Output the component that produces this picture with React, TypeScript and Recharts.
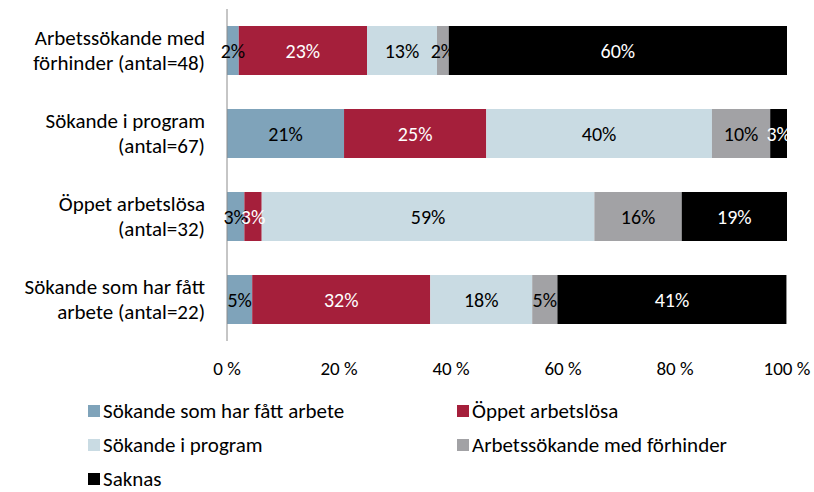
import { BarChart, Bar, XAxis, YAxis, LabelList } from "recharts";

const FONT = "Carlito, Calibri, Lato, sans-serif";

// kategorier uppifrån och ned, radbrytning med \n
const categories = [
  "Arbetssökande med\nförhinder (antal=48)",
  "Sökande i program\n(antal=67)",
  "Öppet arbetslösa\n(antal=32)",
  "Sökande som har fått\narbete (antal=22)",
];

// andelar i procent per serie (samma ordning som kategorierna)
const fattArbete = [2.1, 20.9, 3.1, 4.5];
const oppetArbetslosa = [22.9, 25.4, 3.1, 31.8];
const iProgram = [12.5, 40.3, 59.4, 18.2];
const medForhinder = [2.1, 10.4, 15.6, 4.5];
const saknas = [60.4, 3.0, 18.8, 40.9];

const xTicks = [0, 20, 40, 60, 80, 100];

const series = [
  { key: "fattArbete", name: "Sökande som har fått arbete", color: "#7fa3ba", text: "#000", values: fattArbete },
  { key: "oppetArbetslosa", name: "Öppet arbetslösa", color: "#a51f3b", text: "#fff", values: oppetArbetslosa },
  { key: "iProgram", name: "Sökande i program", color: "#c9dbe3", text: "#000", values: iProgram },
  { key: "medForhinder", name: "Arbetssökande med förhinder", color: "#a2a2a5", text: "#000", values: medForhinder },
  { key: "saknas", name: "Saknas", color: "#000000", text: "#fff", values: saknas },
];

const data = categories.map((name, i) => {
  const row: Record<string, string | number> = { name };
  series.forEach((s) => {
    row[s.key] = s.values[i];
  });
  return row;
});

const CategoryTick = (props: any) => {
  const { x, y, payload } = props;
  const lines = String(payload.value).split("\n");
  const lh = 25;
  const startY = y - ((lines.length - 1) * lh) / 2;
  return (
    <text x={x} y={startY} textAnchor="end" fill="#000" fontSize={21} fontFamily={FONT}>
      {lines.map((l, i) => (
        <tspan key={i} x={x - 14} dy={i === 0 ? "0.35em" : lh}>
          {l}
        </tspan>
      ))}
    </text>
  );
};

export default function App() {
  return (
    <div style={{ position: "absolute", left: 0, top: 0, width: 814, height: 492, background: "#fff", fontFamily: FONT, overflow: "hidden" }}>
      <BarChart
        width={814}
        height={400}
        data={data}
        layout="vertical"
        margin={{ top: 9, right: 27, left: 0, bottom: 29 }}
        barCategoryGap={17}
      >
        <XAxis
          type="number"
          domain={[0, 100]}
          ticks={xTicks}
          tickFormatter={(v) => `${v} %`}
          axisLine={false}
          tickLine={false}
          tickMargin={15}
          height={30}
          tick={{ fontSize: 19, fill: "#000", fontFamily: FONT }}
        />
        <YAxis
          type="category"
          dataKey="name"
          width={227}
          axisLine={{ stroke: "#8c8c8c" }}
          tickLine={false}
          tick={<CategoryTick />}
        />
        {series.map((s) => (
          <Bar key={s.key} dataKey={s.key} name={s.name} stackId="a" fill={s.color} isAnimationActive={false}>
            <LabelList
              dataKey={s.key}
              position="center"
              formatter={(v: any) => `${Math.round(Number(v))}%`}
              fill={s.text}
              fontSize={20}
              fontFamily={FONT}
            />
          </Bar>
        ))}
      </BarChart>
      <div style={{ position: "absolute", left: 88, top: 401, width: 720, display: "grid", gridTemplateColumns: "369px 340px", rowGap: 14, fontSize: 21, color: "#000" }}>
        {series.map((s) => (
          <div key={s.key} style={{ display: "flex", alignItems: "center", height: 20, lineHeight: "20px" }}>
            <span style={{ width: 12, height: 12, background: s.color, marginRight: 3, display: "inline-block", flex: "none" }} />
            <span>{s.name}</span>
          </div>
        ))}
      </div>
    </div>
  );
}
